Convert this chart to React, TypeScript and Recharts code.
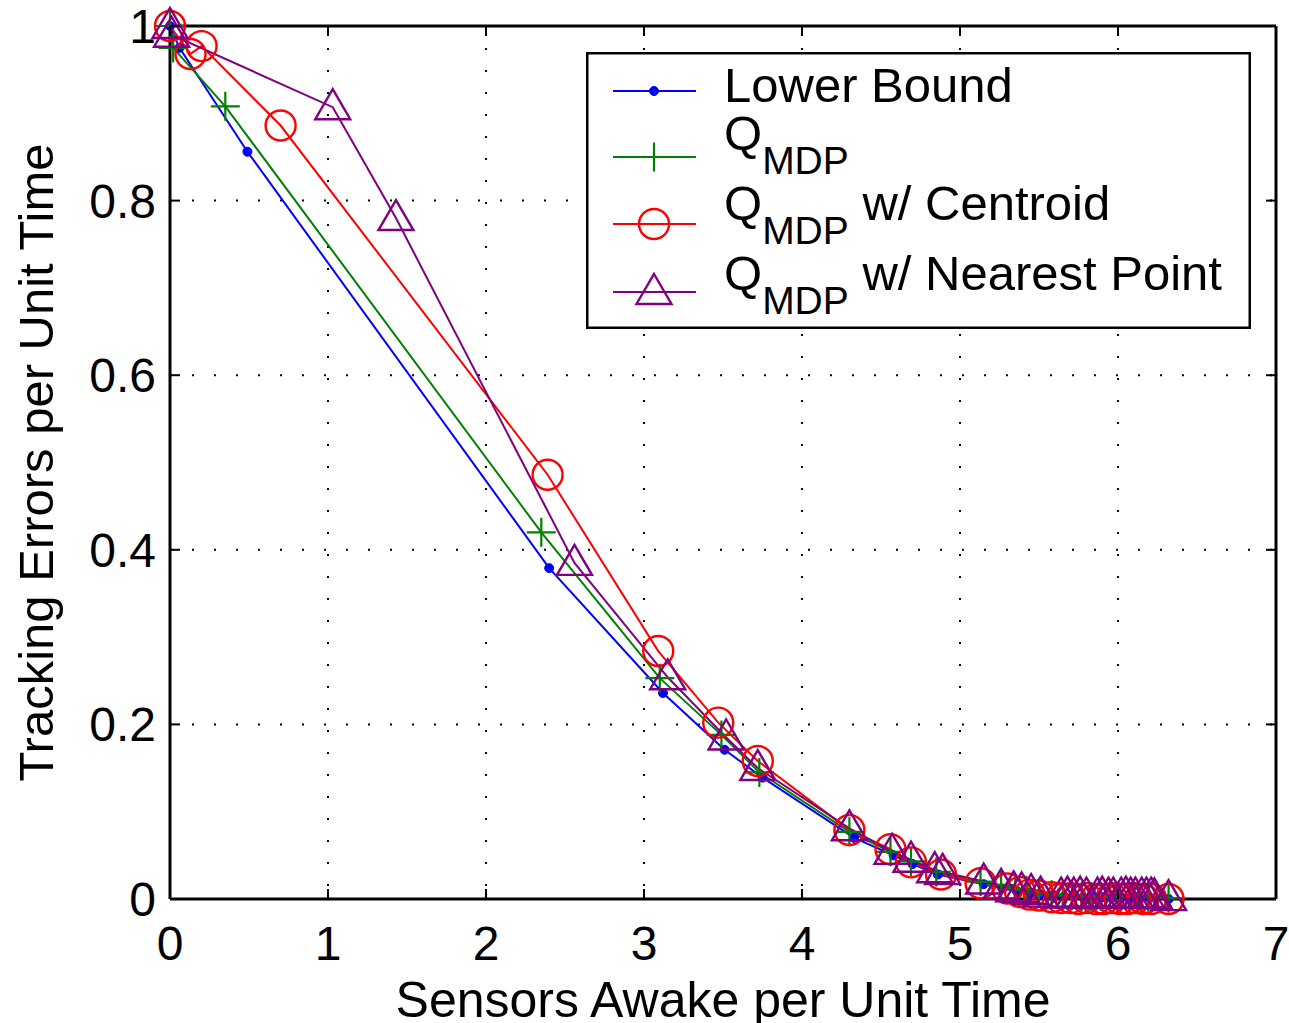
import React from "react";
import { LineChart, Line, XAxis, YAxis, CartesianGrid, Legend } from "recharts";

// axis ticks
const X_TICKS = [0, 1, 2, 3, 4, 5, 6, 7];
const Y_TICKS = [0, 0.2, 0.4, 0.6, 0.8, 1];

// Lower Bound
const lowerX = [0, 0.06, 0.49, 2.4, 3.12, 3.51, 3.75, 4.33, 4.58, 4.7, 4.86, 5.15, 5.27, 5.36, 5.45, 5.52, 5.6, 5.66, 5.72, 5.78, 5.84, 5.9, 5.96, 6.02, 6.08, 6.14, 6.2, 6.32];
const lowerY = [1.0, 0.975, 0.856, 0.379, 0.236, 0.171, 0.139, 0.07, 0.05, 0.04, 0.028, 0.017, 0.012, 0.009, 0.007, 0.005, 0.004, 0.003, 0.003, 0.002, 0.002, 0.002, 0.001, 0.001, 0.001, 0.001, 0.001, 0.0];

// Q_MDP
const qmdpX = [0, 0.02, 0.35, 2.35, 3.1, 3.49, 3.73, 4.3, 4.56, 4.69, 4.85, 5.13, 5.26, 5.35, 5.42, 5.5, 5.58, 5.65, 5.71, 5.77, 5.83, 5.89, 5.95, 6.01, 6.07, 6.13, 6.19, 6.32];
const qmdpY = [1.0, 0.975, 0.908, 0.42, 0.253, 0.188, 0.145, 0.077, 0.054, 0.043, 0.031, 0.02, 0.016, 0.012, 0.01, 0.007, 0.005, 0.004, 0.004, 0.003, 0.003, 0.003, 0.002, 0.002, 0.002, 0.002, 0.002, 0.001];

// Q_MDP w/ Centroid
const centroidX = [0, 0.13, 0.2, 0.7, 2.39, 3.09, 3.47, 3.72, 4.3, 4.56, 4.69, 4.88, 5.13, 5.3, 5.38, 5.44, 5.5, 5.58, 5.64, 5.7, 5.75, 5.8, 5.86, 5.91, 5.96, 6.01, 6.06, 6.11, 6.16, 6.21, 6.32];
const centroidY = [1.0, 0.968, 0.977, 0.886, 0.486, 0.284, 0.202, 0.158, 0.079, 0.057, 0.042, 0.028, 0.018, 0.012, 0.008, 0.005, 0.004, 0.002, 0.001, 0.001, 0.0, 0.001, 0.0, 0.0, 0.001, 0.0, 0.0, 0.001, 0.0, 0.0, 0.0];

// Q_MDP w/ Nearest Point
const nearestX = [0, 0.01, 1.03, 1.43, 2.56, 3.15, 3.52, 3.72, 4.3, 4.57, 4.69, 4.84, 4.89, 5.15, 5.26, 5.34, 5.39, 5.45, 5.51, 5.64, 5.68, 5.72, 5.76, 5.8, 5.87, 5.9, 5.94, 5.97, 6.02, 6.05, 6.08, 6.11, 6.15, 6.18, 6.21, 6.23, 6.32];
const nearestY = [1.0, 0.99, 0.907, 0.78, 0.385, 0.254, 0.185, 0.15, 0.081, 0.054, 0.045, 0.033, 0.031, 0.02, 0.014, 0.011, 0.01, 0.008, 0.005, 0.004, 0.005, 0.004, 0.005, 0.004, 0.004, 0.005, 0.004, 0.004, 0.004, 0.005, 0.004, 0.004, 0.004, 0.004, 0.004, 0.003, 0.001];

const zip = (xs: number[], ys: number[]) => xs.map((x, i) => ({ x, y: ys[i] }));

type MarkerKind = "dot" | "plus" | "circle" | "triangle";

const SERIES: {
  id: string;
  color: string;
  marker: MarkerKind;
  label: string;
  sub: boolean;
  data: { x: number; y: number }[];
}[] = [
  { id: "lower", color: "#0000ff", marker: "dot", label: "Lower Bound", sub: false, data: zip(lowerX, lowerY) },
  { id: "qmdp", color: "#008000", marker: "plus", label: "", sub: true, data: zip(qmdpX, qmdpY) },
  { id: "centroid", color: "#ff0000", marker: "circle", label: " w/ Centroid", sub: true, data: zip(centroidX, centroidY) },
  { id: "nearest", color: "#800080", marker: "triangle", label: " w/ Nearest Point", sub: true, data: zip(nearestX, nearestY) },
];

const FONT = "'Liberation Sans', Arial, Helvetica, sans-serif";

function Marker({ kind, cx, cy, color }: { kind: MarkerKind; cx?: number; cy?: number; color: string }) {
  if (cx == null || cy == null) return null;
  if (kind === "dot") return <circle cx={cx} cy={cy} r={4.5} fill={color} stroke={color} />;
  if (kind === "plus")
    return (
      <path
        d={`M${cx - 14.5},${cy}H${cx + 14.5}M${cx},${cy - 14.5}V${cy + 14.5}`}
        stroke={color}
        strokeWidth={2.2}
        fill="none"
      />
    );
  if (kind === "circle") return <circle cx={cx} cy={cy} r={15} fill="none" stroke={color} strokeWidth={2.4} />;
  return (
    <path
      d={`M${cx},${cy - 18}L${cx + 17.5},${cy + 12}L${cx - 17.5},${cy + 12}Z`}
      fill="none"
      stroke={color}
      strokeWidth={2.4}
      strokeLinejoin="miter"
    />
  );
}

const BottomTick = (p: any) => (
  <g>
    <line x1={p.x} y1={p.y} x2={p.x} y2={p.y - 10} stroke="#000" strokeWidth={2} />
    <text x={p.x} y={p.y + 61} textAnchor="middle" fontSize={48} fontFamily={FONT} fill="#000">
      {p.payload.value}
    </text>
  </g>
);

const LeftTick = (p: any) => (
  <g>
    <line x1={p.x} y1={p.y} x2={p.x + 10} y2={p.y} stroke="#000" strokeWidth={2} />
    <text x={p.x - 14} y={p.y + 17} textAnchor="end" fontSize={48} fontFamily={FONT} fill="#000">
      {p.payload.value}
    </text>
  </g>
);

const TopTick = (p: any) => <line x1={p.x} y1={p.y} x2={p.x} y2={p.y + 10} stroke="#000" strokeWidth={2} />;
const RightTick = (p: any) => <line x1={p.x} y1={p.y} x2={p.x - 10} y2={p.y} stroke="#000" strokeWidth={2} />;

const YLabel = (props: any) => {
  const vb = props.viewBox;
  const cy = vb.y + vb.height / 2;
  const bx = 53;
  return (
    <text
      x={bx}
      y={cy}
      transform={`rotate(-90, ${bx}, ${cy})`}
      textAnchor="middle"
      fontSize={49}
      fontFamily={FONT}
      fill="#000"
    >
      Tracking Errors per Unit Time
    </text>
  );
};

const LegendBox = () => {
  const lineY = [39, 105, 172, 240];
  const base = [50, 98, 168, 238];
  return (
    <svg width={665} height={277} style={{ display: "block" }}>
      <rect x={1.25} y={1.25} width={662.5} height={274.5} fill="#fff" stroke="#000" strokeWidth={2.5} />
      {SERIES.map((s, i) => (
        <g key={s.id}>
          <line x1={27} x2={110} y1={lineY[i]} y2={lineY[i]} stroke={s.color} strokeWidth={2} />
          <Marker kind={s.marker} cx={68} cy={lineY[i]} color={s.color} />
          <text x={138} y={base[i]} fontSize={49} fontFamily={FONT} fill="#000" style={{ whiteSpace: "pre" }}>
            {s.sub ? (
              <>
                Q
                <tspan fontSize={39} dy={24}>MDP</tspan>
                {s.label ? <tspan dy={-24} fontSize={49}>{s.label}</tspan> : null}
              </>
            ) : (
              s.label
            )}
          </text>
        </g>
      ))}
    </svg>
  );
};

export default function App() {
  return (
    <div style={{ width: 1289, height: 1023, background: "#fff" }}>
      <style>{"body{margin:0}"}</style>
      <LineChart width={1289} height={1023} margin={{ top: 25, right: 12, left: 0, bottom: 0 }}>
        <CartesianGrid xAxisId="main" yAxisId="main" stroke="#000" strokeWidth={2} strokeDasharray="2 20" />
        <XAxis
          xAxisId="main"
          dataKey="x"
          type="number"
          domain={[0, 7]}
          ticks={X_TICKS}
          height={124}
          tickSize={0}
          tickMargin={0}
          tickLine={false}
          tick={BottomTick}
          axisLine={{ stroke: "#000", strokeWidth: 3 }}
          label={{
            value: "Sensors Awake per Unit Time",
            position: "insideBottom",
            offset: 6,
            fontSize: 50,
            fontFamily: FONT,
            fill: "#000",
          }}
        />
        <XAxis
          xAxisId="top"
          orientation="top"
          dataKey="x"
          type="number"
          domain={[0, 7]}
          ticks={X_TICKS}
          height={1}
          tickSize={0}
          tickMargin={0}
          tickLine={false}
          tick={TopTick}
          axisLine={{ stroke: "#000", strokeWidth: 3 }}
        />
        <YAxis
          yAxisId="main"
          type="number"
          domain={[0, 1]}
          ticks={Y_TICKS}
          width={170}
          tickSize={0}
          tickMargin={0}
          tickLine={false}
          tick={LeftTick}
          axisLine={{ stroke: "#000", strokeWidth: 3 }}
          label={YLabel}
        />
        <YAxis
          yAxisId="right"
          orientation="right"
          type="number"
          domain={[0, 1]}
          ticks={Y_TICKS}
          width={1}
          tickSize={0}
          tickMargin={0}
          tickLine={false}
          tick={RightTick}
          axisLine={{ stroke: "#000", strokeWidth: 3 }}
        />
        {SERIES.map((s) => (
          <Line
            key={s.id}
            xAxisId="main"
            yAxisId="main"
            data={s.data}
            dataKey="y"
            type="linear"
            stroke={s.color}
            strokeWidth={2}
            isAnimationActive={false}
            activeDot={false}
            dot={(p: any) => <Marker key={`${s.id}-${p.index}`} kind={s.marker} cx={p.cx} cy={p.cy} color={s.color} />}
          />
        ))}
        {/* hidden series so the mirrored top/right axes get a domain */}
        <Line
          xAxisId="top"
          yAxisId="right"
          data={SERIES[0].data}
          dataKey="y"
          stroke="none"
          dot={false}
          activeDot={false}
          legendType="none"
          isAnimationActive={false}
        />
        <Legend
          layout="vertical"
          align="center"
          verticalAlign="middle"
          wrapperStyle={{ position: "absolute", left: 586, top: 52, width: 665, height: 277 }}
          content={() => <LegendBox />}
        />
      </LineChart>
    </div>
  );
}
